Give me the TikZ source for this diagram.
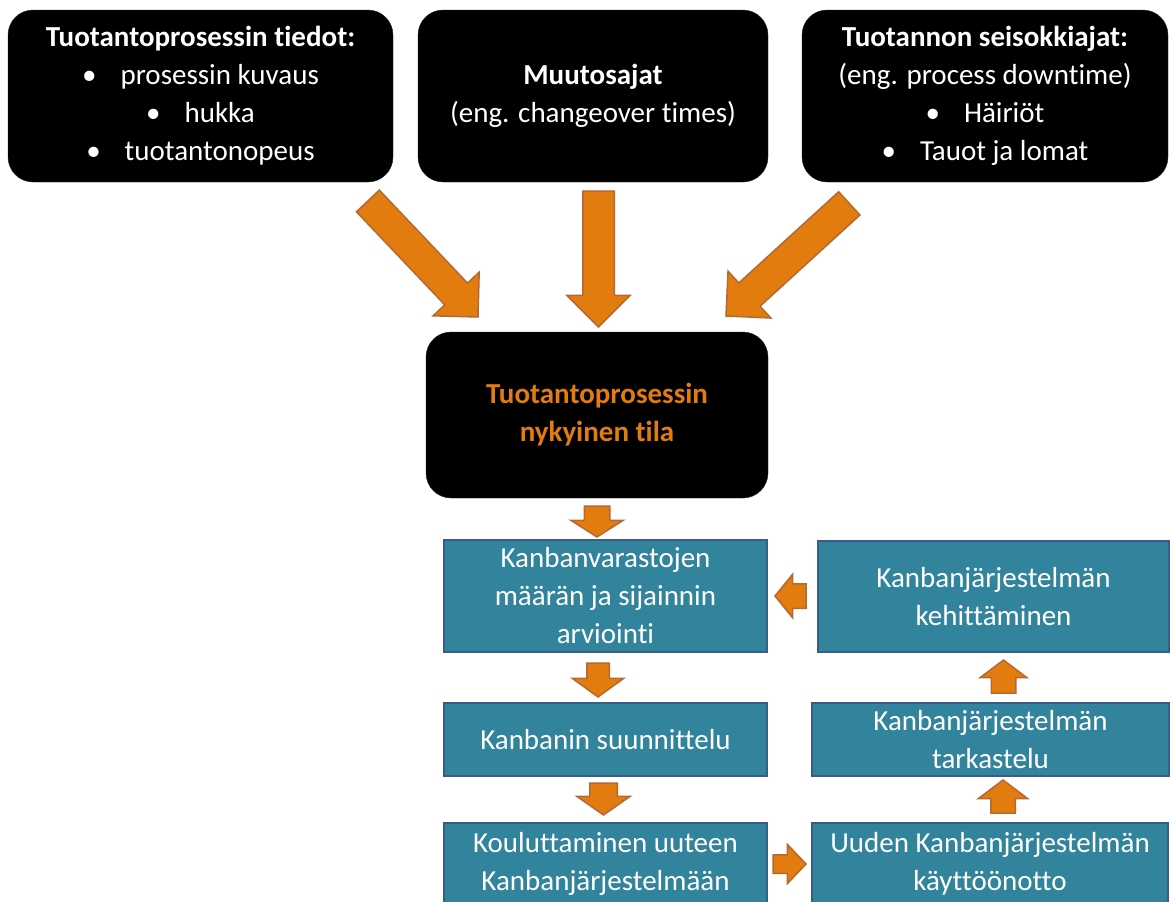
\documentclass[tikz,border=0pt]{standalone}
\usepackage{fontspec}
\setmainfont{Carlito}[Ligatures=NoCommon]
\usetikzlibrary{shapes.arrows}

\definecolor{floworange}{RGB}{227,124,14}
\definecolor{flowedge}{RGB}{181,105,48}
\definecolor{stepfill}{RGB}{49,132,155}
\definecolor{stepedge}{RGB}{56,93,138}

\tikzset{
  infobox/.style={draw=black!85, fill=black, rounded corners=25pt, text=white,
    align=center, font=\fontsize{29}{38}\selectfont, inner sep=0pt, outer sep=0pt},
  stepbox/.style={draw=stepedge, line width=2pt, fill=stepfill, text=white,
    align=center, font=\fontsize{29}{38}\selectfont, inner sep=0pt, outer sep=0pt},
  % shaft half width = inner ysep, head = shaft + 2 * head extend
  blockarrow/.style={single arrow, draw=flowedge, fill=floworange, line width=1.5pt,
    inner xsep=0pt, outer sep=0pt, anchor=tip},
  bigarrow/.style={blockarrow, inner ysep=15pt, single arrow tip angle=90,
    single arrow head extend=16pt},
}

\begin{document}
\begin{tikzpicture}[x=1pt,y=-1pt]
  \path[use as bounding box] (0,0) rectangle (1170,902);
  \clip (0,0) rectangle (1170,902);

  % input boxes
  \node[infobox, minimum width=385pt, minimum height=172pt] (info) at (200.5,96)
    {\textbf{Tuotantoprosessin tiedot:}\\
     \textbullet\hspace{24pt}prosessin kuvaus\\
     \textbullet\hspace{24pt}hukka\\
     \textbullet\hspace{24pt}tuotantonopeus};
  \node[infobox, minimum width=350pt, minimum height=172pt] (change) at (593,96)
    {\textbf{Muutosajat}\\(eng. changeover times)};
  \node[infobox, minimum width=366pt, minimum height=172pt] (downtime) at (985,96)
    {\textbf{Tuotannon seisokkiajat:}\\(eng. process downtime)\\
     \textbullet\hspace{24pt}Häiriöt\\
     \textbullet\hspace{24pt}Tauot ja lomat};

  % current state
  \node[infobox, minimum width=342pt, minimum height=166pt, text=floworange] (state) at (597,415)
    {\textbf{Tuotantoprosessin}\\\textbf{nykyinen tila}};

  % converging arrows
  \node[bigarrow, minimum height=160pt, rotate=-46.5] (arrowinfo) at (478,317) {};
  \node[bigarrow, minimum height=136pt, rotate=-90] (arrowchange) at (598.5,327) {};
  \node[bigarrow, minimum height=167pt, rotate=-137.6] (arrowdowntime) at (726,316) {};

  % Kanban steps
  \node[stepbox, minimum width=323pt, minimum height=112pt] (estimate) at (605.5,596)
    {Kanbanvarastojen\\määrän ja sijainnin\\arviointi};
  \node[stepbox, minimum width=323pt, minimum height=73pt] (design) at (605.5,739.5)
    {Kanbanin suunnittelu};
  \node[stepbox, minimum width=323pt, minimum height=82pt] (training) at (605.5,864)
    {Kouluttaminen uuteen\\Kanbanjärjestelmään};
  \node[stepbox, minimum width=356pt, minimum height=82pt] (adopt) at (990,864)
    {Uuden Kanbanjärjestelmän\\käyttöönotto};
  \node[stepbox, minimum width=357pt, minimum height=73pt] (review) at (990.5,739.5)
    {Kanbanjärjestelmän\\tarkastelu};
  \node[stepbox, minimum width=351pt, minimum height=111pt] (develop) at (993.5,596.5)
    {Kanbanjärjestelmän\\kehittäminen};

  % step arrows
  \node[blockarrow, rotate=-90, minimum height=31pt, inner ysep=12pt,
        single arrow head extend=13.5pt, single arrow tip angle=115] (toestimate) at (597,537) {};
  \node[blockarrow, rotate=-90, minimum height=34pt, inner ysep=10.5pt,
        single arrow head extend=14.5pt, single arrow tip angle=108] (todesign) at (598,697) {};
  \node[blockarrow, rotate=-90, minimum height=32pt, inner ysep=13pt,
        single arrow head extend=13pt, single arrow tip angle=110] (totraining) at (603.5,815) {};
  \node[blockarrow, rotate=0, minimum height=33pt, inner ysep=8.5pt,
        single arrow head extend=10.5pt, single arrow tip angle=93] (toadopt) at (806,864) {};
  \node[blockarrow, rotate=90, minimum height=33pt, inner ysep=11.5pt,
        single arrow head extend=12.5pt, single arrow tip angle=106] (toreview) at (1003,780) {};
  \node[blockarrow, rotate=90, minimum height=33pt, inner ysep=11.5pt,
        single arrow head extend=11pt, single arrow tip angle=106] (todevelop) at (1003.5,660) {};
  \node[blockarrow, rotate=180, minimum height=31pt, inner ysep=11.5pt,
        single arrow head extend=9.5pt, single arrow tip angle=102] (toestimateback) at (775,596) {};
\end{tikzpicture}
\end{document}
